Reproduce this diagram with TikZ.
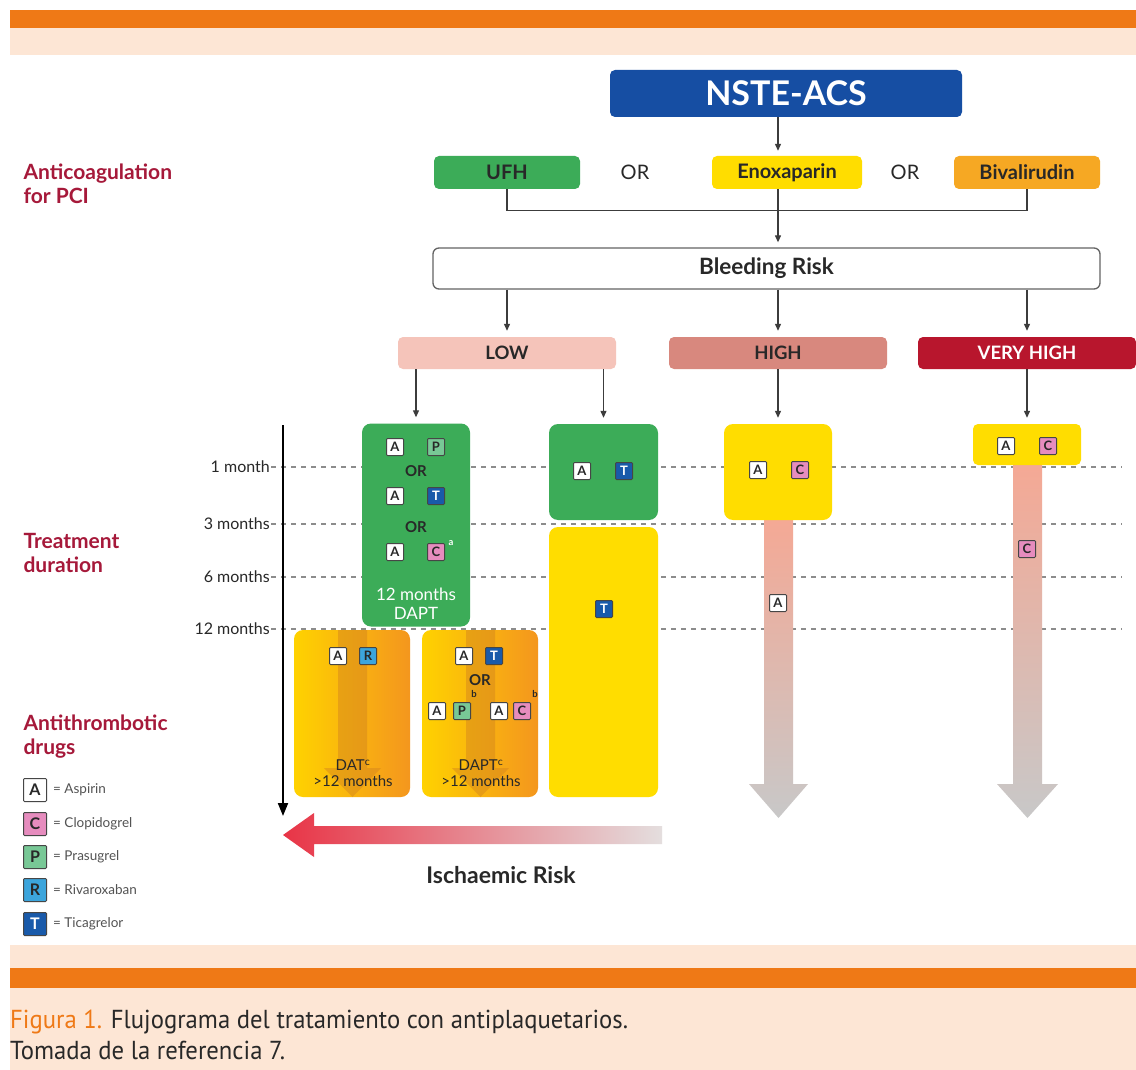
\documentclass[tikz,border=0pt]{standalone}
\usepackage{fontspec}
\setmainfont{Lato}
\setsansfont{Lato}
\newfontfamily\capfont[FakeStretch=0.95]{PT Sans}
\usetikzlibrary{arrows.meta,calc}
\definecolor{orangebar}{RGB}{239,121,22}
\definecolor{peach}{RGB}{253,230,213}
\definecolor{nsteblue}{RGB}{22,78,163}
\definecolor{boxgreen}{RGB}{60,172,88}
\definecolor{boxyellow}{RGB}{255,221,0}
\definecolor{bivorange}{RGB}{246,168,35}
\definecolor{lowpink}{RGB}{245,196,186}
\definecolor{highpink}{RGB}{216,136,126}
\definecolor{vhighred}{RGB}{184,22,45}
\definecolor{labelred}{RGB}{166,25,58}
\definecolor{dashgray}{RGB}{140,140,140}
\definecolor{linegray}{RGB}{60,60,60}
\definecolor{textdark}{RGB}{40,40,40}
\definecolor{drugedge}{RGB}{70,70,70}
\definecolor{drugC}{RGB}{230,140,190}
\definecolor{drugP}{RGB}{120,200,150}
\definecolor{drugR}{RGB}{60,165,220}
\definecolor{drugT}{RGB}{25,90,170}
\definecolor{arrowtop}{RGB}{245,168,148}
\definecolor{arrowbot}{RGB}{200,200,200}
\definecolor{datyellow}{RGB}{255,210,0}
\definecolor{datorange}{RGB}{244,150,30}
\definecolor{datstripe}{RGB}{210,130,30}
\definecolor{isred}{RGB}{232,52,70}
\definecolor{isgray}{RGB}{228,222,222}
\tikzset{
 flowbox/.style={rounded corners=5, minimum height=33, inner sep=0, font=\fontsize{20}{22}\selectfont\bfseries, text=textdark},
 riskbox/.style={rounded corners=5, minimum height=32, minimum width=218, inner sep=0, font=\fontsize{18.5}{20}\selectfont\bfseries, text=textdark},
 phase/.style={rounded corners=9, inner sep=0},
 drug/.style={draw=drugedge, line width=1, minimum size=17, inner sep=0, rounded corners=1, font=\fontsize{13}{13}\selectfont\bfseries, text=textdark},
 dA/.style={drug, fill=white},
 dC/.style={drug, fill=drugC},
 dP/.style={drug, fill=drugP},
 dR/.style={drug, fill=drugR},
 dT/.style={drug, fill=drugT, text=white},
 conn/.style={draw=linegray, line width=1.2},
 arr/.style={conn, -{Triangle[length=7,width=6]}},
 sidelabel/.style={anchor=west, align=left, text=labelred, font=\fontsize{21}{24}\selectfont\bfseries},
 tick/.style={anchor=east, inner sep=1, font=\fontsize{16}{16}\selectfont, text=textdark},
 gridline/.style={draw=dashgray, line width=1.5, dash pattern=on 5 off 5},
 orword/.style={font=\fontsize{15}{15}\selectfont\bfseries, text=textdark},
 supword/.style={font=\fontsize{9.5}{9.5}\selectfont\bfseries, text=textdark, inner sep=0},
 legtext/.style={anchor=west, inner sep=0, font=\fontsize{13.5}{13.5}\selectfont, text=textdark!80},
 legbox/.style={minimum size=23, font=\fontsize{16}{16}\selectfont\bfseries}
}
\begin{document}
\begin{tikzpicture}[x=1pt,y=-1pt]
\useasboundingbox (0,0) rectangle (1136,1070);
\fill[white] (0,0) rectangle (1136,1070);
% header and footer bands
\fill[peach] (10,28) rectangle (1136,55);
\fill[orangebar] (10,10) rectangle (1136,28);
\fill[peach] (10,945) rectangle (1136,1070);
\fill[orangebar] (10,968) rectangle (1136,988);

\coordinate (spine) at (778,0);
\coordinate (gridend) at (1122,0);

% top flow
\node[flowbox, fill=nsteblue, text=white, minimum width=352, minimum height=47, font=\fontsize{34}{34}\selectfont\bfseries] (nste) at (786,93.5) {NSTE-ACS};
\node[flowbox, fill=boxgreen, minimum width=146] (ufh) at (507,172.5) {UFH};
\node[flowbox, fill=boxyellow, minimum width=150] (enox) at (787,172.5) {Enoxaparin};
\node[flowbox, fill=bivorange, minimum width=146] (biv) at (1027,172.5) {Bivalirudin};
\node[font=\fontsize{20}{20}\selectfont, text=textdark] (or1) at (635,172.5) {OR};
\node[font=\fontsize{20}{20}\selectfont, text=textdark] (or2) at (905,172.5) {OR};
\node[draw=linegray!80, line width=1.3, rounded corners=6, minimum width=667, minimum height=41, font=\fontsize{22.5}{22.5}\selectfont\bfseries, text=textdark] (bleed) at (766.5,268.5) {Bleeding Risk};

\draw[arr, shorten >=5] (nste.south -| spine) -- (enox.north -| spine);
\draw[conn] (ufh.south) -- ++(0,21) -| (biv.south);
\draw[arr, shorten >=5] (enox.south -| spine) -- (bleed.north -| spine);

\node[riskbox, fill=lowpink] (low) at (507,353) {LOW};
\node[riskbox, fill=highpink] (high) at (778,353) {HIGH};
\node[riskbox, fill=vhighred, text=white] (vhigh) at (1027,353) {VERY HIGH};
\draw[arr, shorten >=6] (bleed.south -| low) -- (low.north);
\draw[arr, shorten >=6] (bleed.south -| high) -- (high.north);
\draw[arr, shorten >=6] (bleed.south -| vhigh) -- (vhigh.north);

% side labels
\node[sidelabel] (lab1) at (20,184) {Anticoagulation\\for PCI};
\node[sidelabel] (lab2) at (20,553) {Treatment\\duration};
\node[sidelabel] (lab3) at (20,737) {Antithrombotic\\drugs};

% time grid
\node[tick] (t1) at (271,467) {1 month};
\node[tick] (t3) at (271,524) {3 months};
\node[tick] (t6) at (271,577) {6 months};
\node[tick] (t12) at (271,629) {12 months};
\foreach \t in {t1,t3,t6,t12} \draw[gridline] (\t.east) -- (\t.east -| gridend);

% shaded downward arrows (high, very high)
\shade[top color=arrowtop, bottom color=arrowbot] (764,515) -- (793,515) -- (793,784) -- (808,784) -- (778.5,818) -- (749,784) -- (764,784) -- cycle;
\shade[top color=arrowtop, bottom color=arrowbot] (1013,460) -- (1042,460) -- (1042,784) -- (1058,784) -- (1027.5,818) -- (997,784) -- (1013,784) -- cycle;

% phase boxes
\node[phase, fill=boxgreen, minimum width=108, minimum height=203] (g1) at (416,525) {};
\node[phase, fill=boxgreen, minimum width=109, minimum height=96] (g2) at (603.5,472) {};
\node[phase, fill=boxyellow, minimum width=109, minimum height=270] (y2) at (603.5,662) {};
\node[phase, fill=boxyellow, minimum width=108, minimum height=96] (hy) at (778,472) {};
\node[phase, rounded corners=5, fill=boxyellow, minimum width=108, minimum height=41] (vy) at (1027,444.5) {};
\node[phase, left color=datyellow, right color=datorange, minimum width=116, minimum height=167] (dat1) at (352,713.5) {};
\node[phase, left color=datyellow, right color=datorange, minimum width=116, minimum height=167] (dat2) at (480,713.5) {};
\fill[datstripe, opacity=0.45] (338,630) -- (367,630) -- (367,768) -- (381,768) -- (352.5,797) -- (324,768) -- (338,768) -- cycle;
\fill[datstripe, opacity=0.45] (466,630) -- (495,630) -- (495,768) -- (509,768) -- (480.5,797) -- (452,768) -- (466,768) -- cycle;

\draw[arr, shorten >=6] (low.south -| g1) -- (g1.north);
\draw[arr, shorten >=6] (low.south -| g2) -- (g2.north);
\draw[arr, shorten >=6] (high.south) -- (hy.north);
\draw[arr, shorten >=6] (vhigh.south) -- (vy.north);

% green box 1 contents
\node[dA] (g1a1) at (395,447) {A};
\node[dP] (g1p) at (436,447) {P};
\node[orword] (g1or1) at (416,471) {OR};
\node[dA] (g1a2) at (395,496) {A};
\node[dT] (g1t) at (436,496) {T};
\node[orword] (g1or2) at (416,527) {OR};
\node[dA] (g1a3) at (395,552) {A};
\node[dC] (g1c) at (436,552) {C};
\node[supword, text=white] (g1sup) at (451,543) {a};
\node[align=center, text=white, font=\fontsize{17}{19}\selectfont] (g1txt) at (416,604) {12 months\\DAPT};

% green box 2
\node[dA] (g2a) at (582,471) {A};
\node[dT] (g2t) at (624,471) {T};
% yellow long box
\node[dT] (y2t) at (604,609) {T};
% high
\node[dA] (hya) at (758,470) {A};
\node[dC] (hyc) at (800,470) {C};
\node[dA] (hya2) at (778,603) {A};
% very high
\node[dA] (vya) at (1006,446) {A};
\node[dC] (vyc) at (1048,446) {C};
\node[dC] (vyc2) at (1027,549) {C};

% DAT box 1
\node[dA] (d1a) at (338,656) {A};
\node[dR] (d1r) at (368,656) {R};
\node[align=center, text=textdark, font=\fontsize{15}{16}\selectfont] (d1txt) at (353,773) {DAT\textsuperscript{c}\\>12 months};
% DAPT box 2
\node[dA] (d2a) at (464,656) {A};
\node[dT] (d2t) at (494,656) {T};
\node[orword] (d2or) at (480,680) {OR};
\node[dA] (d2a2) at (437,711) {A};
\node[dP] (d2p) at (462,711) {P};
\node[dA] (d2a3) at (499,711) {A};
\node[dC] (d2c) at (522,711) {C};
\node[supword] (d2b1) at (474,694) {b};
\node[supword] (d2b2) at (535,694) {b};
\node[align=center, text=textdark, font=\fontsize{15}{16}\selectfont] (d2txt) at (481,773) {DAPT\textsuperscript{c}\\>12 months};

% time axis
\coordinate (axtop) at (283,425);
\coordinate (axbot) at (283,816);
\draw[line width=2, -{Triangle[length=13,width=10]}] (axtop) -- (axbot);

% ischaemic risk arrow
\shade[left color=isred, right color=isgray] (662,826) -- (314,826) -- (314,813) -- (283,835) -- (314,857) -- (314,844) -- (662,844) -- cycle;
\node[font=\fontsize{23}{23}\selectfont\bfseries, text=textdark] (isch) at (501,875) {Ischaemic Risk};

% legend
\node[dA, legbox] (la) at (35,790) {A};
\node[dC, legbox] (lc) at (35,824) {C};
\node[dP, legbox] (lp) at (35,857) {P};
\node[dR, legbox] (lr) at (35,890) {R};
\node[dT, legbox] (lt) at (35,924) {T};
\node[legtext] (lat) at (53,790) {= Aspirin};
\node[legtext] (lct) at (53,824) {= Clopidogrel};
\node[legtext] (lpt) at (53,857) {= Prasugrel};
\node[legtext] (lrt) at (53,890) {= Rivaroxaban};
\node[legtext] (ltt) at (53,924) {= Ticagrelor};

% caption
\node[anchor=west, inner sep=0, font=\capfont\fontsize{26}{26}\selectfont, text=textdark] (cap1) at (10,1022) {\textcolor{orangebar}{Figura 1.} Flujograma del tratamiento con antiplaquetarios.};
\node[anchor=west, inner sep=0, font=\capfont\fontsize{26}{26}\selectfont, text=textdark] (cap2) at (10,1050) {Tomada de la referencia 7.};
\end{tikzpicture}
\end{document}
